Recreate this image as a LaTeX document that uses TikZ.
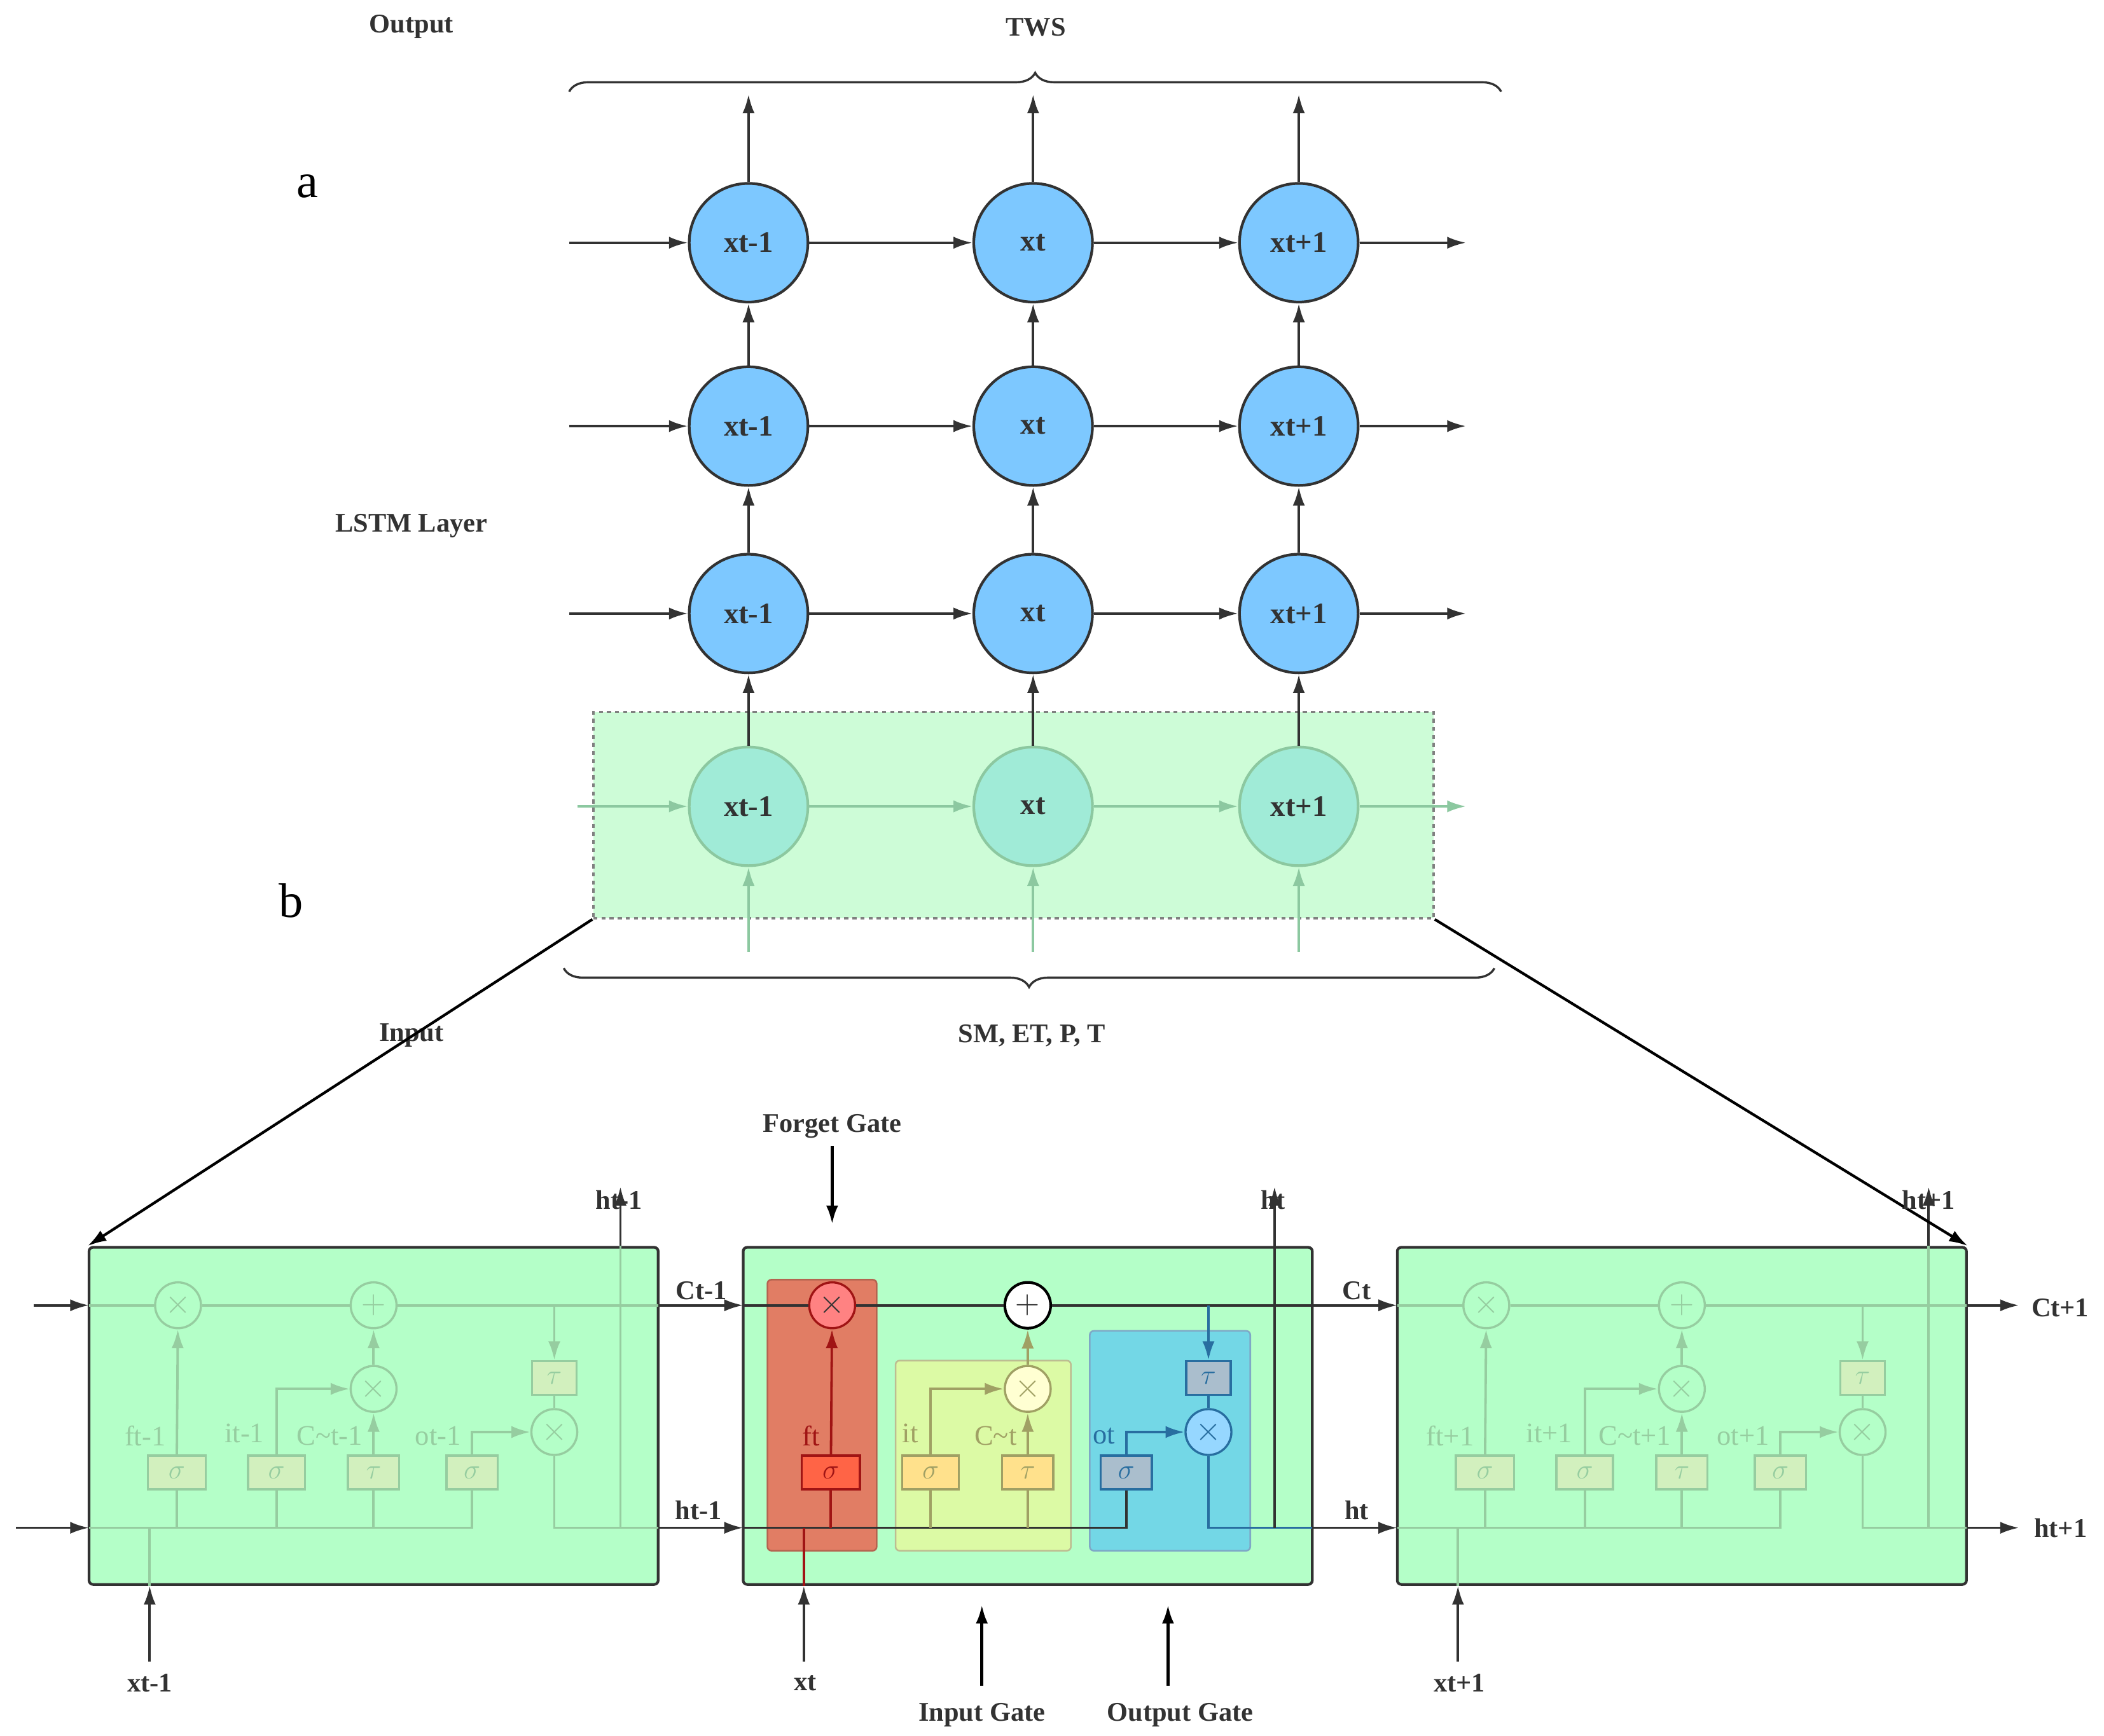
\documentclass[tikz,border=0pt]{standalone}
\usepackage{fontspec}
\setmainfont{Liberation Serif}
\usetikzlibrary{arrows.meta,decorations.pathreplacing}

\definecolor{darkline}{RGB}{50,50,50}
\definecolor{unitblue}{RGB}{125,200,255}
\definecolor{fadeedge}{RGB}{140,200,160}
\definecolor{fadeunit}{RGB}{160,235,215}
\definecolor{zoomfill}{RGB}{205,252,215}
\definecolor{cellgreen}{RGB}{180,255,200}
\definecolor{fadeline}{RGB}{150,205,160}
\definecolor{fadebox}{RGB}{210,240,190}
\definecolor{redbg}{RGB}{225,125,100}
\definecolor{redline}{RGB}{160,20,20}
\definecolor{redmul}{RGB}{255,130,130}
\definecolor{redsig}{RGB}{255,100,70}
\definecolor{yelbg}{RGB}{220,250,165}
\definecolor{yelline}{RGB}{160,160,100}
\definecolor{yelmul}{RGB}{255,255,210}
\definecolor{yelsig}{RGB}{255,225,140}
\definecolor{bluebg}{RGB}{115,215,230}
\definecolor{blueline}{RGB}{40,110,160}
\definecolor{bluemul}{RGB}{150,215,255}
\definecolor{bluesig}{RGB}{170,190,205}

\tikzset{
    unit/.style={circle,draw=darkline,fill=unitblue,line width=2pt,minimum size=88pt,inner sep=0pt,font=\fontsize{22}{26}\selectfont\bfseries},
    fadeunit/.style={unit,draw=fadeedge,fill=fadeunit},
    cellbox/.style={draw=darkline,fill=cellgreen,rounded corners=3pt,line width=2pt,minimum width=422pt,minimum height=250pt},
    mul/.style={circle,line width=1.6pt,minimum width=32pt,minimum height=34pt,inner sep=0pt,font=\fontsize{24}{24}\selectfont},
    gate/.style={rectangle,line width=1.6pt,minimum height=25pt,inner sep=0pt,font=\fontsize{20}{20}\selectfont},
    glabel/.style={font=\fontsize{21}{24}\selectfont\mdseries},
    gatebg/.style={rounded corners=3pt,line width=1.2pt},
    % colours of the live cell
    cline/.style={draw=darkline},
    add/.style={mul,draw=black,fill=white,line width=2pt},
    fline/.style={draw=redline}, fmul/.style={mul,draw=redline,fill=redmul}, fgate/.style={gate,draw=redline,fill=redsig,text=redline},
    fbg/.style={gatebg,draw=redbg!80!black,fill=redbg}, ftext/.style={glabel,text=redline},
    iline/.style={draw=yelline}, imul/.style={mul,draw=yelline,fill=yelmul,text=yelline}, igate/.style={gate,draw=yelline,fill=yelsig,text=yelline},
    ibg/.style={gatebg,draw=yelline!70,fill=yelbg}, itext/.style={glabel,text=yelline},
    oline/.style={draw=blueline}, omul/.style={mul,draw=blueline,fill=bluemul,text=blueline}, ogate/.style={gate,draw=blueline,fill=bluesig,text=blueline},
    obg/.style={gatebg,draw=blueline!60,fill=bluebg}, otext/.style={glabel,text=blueline},
    % colours of the side cells
    faded/.style={
        cline/.style={draw=fadeline}, add/.style={mul,draw=fadeline,text=fadeline},
        fline/.style={draw=fadeline}, fmul/.style={mul,draw=fadeline,text=fadeline}, fgate/.style={gate,draw=fadeline,fill=fadebox,text=fadeline},
        iline/.style={draw=fadeline}, imul/.style={mul,draw=fadeline,text=fadeline}, igate/.style={gate,draw=fadeline,fill=fadebox,text=fadeline},
        oline/.style={draw=fadeline}, omul/.style={mul,draw=fadeline,text=fadeline}, ogate/.style={gate,draw=fadeline,fill=fadebox,text=fadeline},
        fbg/.style={draw=none}, ibg/.style={draw=none}, obg/.style={draw=none},
        ftext/.style={glabel,text=fadeline}, itext/.style={glabel,text=fadeline}, otext/.style={glabel,text=fadeline}},
}

% #1 prefix, #2 shift, #3 f, #4 i, #5 C~, #6 o, #7 style
\newcommand{\lstmcell}[7]{%
\begin{scope}[xshift=#2pt,#7]
    \node[cellbox] (#1box) at (277,1050) {};
    \path[fbg] (84,949) rectangle (165,1150);
    \path[ibg] (179,1009) rectangle (309,1150);
    \path[obg] (323,987) rectangle (442,1150);
    \coordinate (#1cin) at (66,968);
    \coordinate (#1cout) at (488,968);
    \coordinate (#1hin) at (66,1133);
    \coordinate (#1hout) at (488,1133);
    \coordinate (#1xin) at (111,1232);
    \coordinate (#1hup) at (460,880);
    \coordinate (#1hsplit) at (460,1133);
    \coordinate (#1csplit) at (411,968);
    \node[fmul] (#1fx) at (132,968) {$\times$};
    \node[add] (#1add) at (277,968) {$+$};
    \node[imul] (#1ix) at (277,1030) {$\times$};
    \node[omul] (#1ox) at (411,1062) {$\times$};
    \node[ogate,minimum width=33pt] (#1ot) at (411,1022) {$\tau$};
    \node[fgate,minimum width=43pt] (#1fs) at (131,1092) {$\sigma$};
    \node[igate,minimum width=42pt] (#1is) at (205,1092) {$\sigma$};
    \node[igate,minimum width=38pt] (#1ct) at (277,1092) {$\tau$};
    \node[ogate,minimum width=38pt] (#1os) at (350,1092) {$\sigma$};
    \node[ftext,anchor=east] at (127,1065) {#3};
    \node[itext,anchor=east] at (200,1063) {#4};
    \node[itext,anchor=east] at (273,1065) {#5};
    \node[otext,anchor=east] at (346,1065) {#6};
    % cell state line
    \draw[cline] (#1cin) -- (#1fx) -- (#1add) -- (#1cout);
    \draw[->,oline] (#1csplit) -- (#1ot);
    \draw[oline] (#1ot) -- (#1ox);
    % hidden state line
    \draw[cline] (#1hin) -| (#1os);
    \draw[fline] (#1fs) -- (#1fs |- #1hin);
    \draw[iline] (#1is) -- (#1is |- #1hin);
    \draw[iline] (#1ct) -- (#1ct |- #1hin);
    \draw[->,fline] (#1fs) -- (#1fx);
    \draw[->,iline] (#1is.north) |- (#1ix.west);
    \draw[->,iline] (#1ct) -- (#1ix);
    \draw[->,iline] (#1ix) -- (#1add);
    \draw[->,oline] (#1os.north) |- (#1ox.west);
    \draw[oline] (#1ox) |- (#1hout);
    \draw[cline] (#1hsplit) -- (#1hsplit |- #1box.north);
    \draw[->,darkline] (#1hsplit |- #1box.north) -- (#1hup);
    \draw[->,darkline] (#1xin) -- (#1xin |- #1box.south);
    \draw[fline] (#1xin |- #1box.south) -- (#1xin |- #1hin);
\end{scope}}

\begin{document}
\begin{tikzpicture}[x=1pt,y=-1pt,>={Latex[length=14pt,width=9pt]},line width=1.8pt,
    font=\fontsize{20}{24}\selectfont\bfseries, every node/.style={text=darkline}]
    \useasboundingbox (0,0) rectangle (1560,1287);

    % zoom window
    \node[draw=gray,dashed,fill=zoomfill,line width=1.6pt,minimum width=623pt,minimum height=153pt] (zoom) at (751.5,604.5) {};

    % stacked LSTM units
    \foreach \r/\y in {1/180,2/316,3/455}
        \foreach \c/\x/\t in {1/555/xt-1,2/766/xt,3/963/xt+1}
            \node[unit] (n\r\c) at (\x,\y) {\t};
    \foreach \c/\x/\t in {1/555/xt-1,2/766/xt,3/963/xt+1}
        \node[fadeunit] (n4\c) at (\x,598) {\t};

    \coordinate (top) at (0,70);
    \coordinate (bot) at (0,706);
    \foreach \r/\y in {1/180,2/316,3/455} {
        \coordinate (in\r) at (422,\y);
        \coordinate (out\r) at (1087,\y);
        \draw[->,darkline] (in\r) -- (n\r1);
        \draw[->,darkline] (n\r1) -- (n\r2);
        \draw[->,darkline] (n\r2) -- (n\r3);
        \draw[->,darkline] (n\r3) -- (out\r);
    }
    \coordinate (in4) at (428,598);
    \coordinate (out4) at (1087,598);
    \draw[->,fadeedge] (in4) -- (n41);
    \draw[->,fadeedge] (n41) -- (n42);
    \draw[->,fadeedge] (n42) -- (n43);
    \draw[->,fadeedge] (n43) -- (out4);
    \foreach \c in {1,2,3} {
        \draw[->,darkline] (n4\c) -- (n3\c);
        \draw[->,darkline] (n3\c) -- (n2\c);
        \draw[->,darkline] (n2\c) -- (n1\c);
        \draw[->,darkline] (n1\c) -- (n1\c |- top);
        \draw[->,fadeedge] (n4\c |- bot) -- (n4\c);
    }

    % braces
    \coordinate (tl) at (422,68);
    \coordinate (tr) at (1113,68);
    \coordinate (bl) at (418,718);
    \coordinate (br) at (1108,718);
    \draw[darkline,line width=1.6pt,decorate,decoration={brace,amplitude=14pt}] (tl) -- (tr);
    \draw[darkline,line width=1.6pt,decorate,decoration={brace,amplitude=14pt}] (br) -- (bl);

    \node (tws) at (768,20) {TWS};
    \node (smet) at (765,768) {SM, ET, P, T};
    \node (outl) at (305,20) {Output};
    \node (lstml) at (305,390) {LSTM Layer};
    \node (inl) at (305,768) {Input};
    \node[font=\fontsize{36}{40}\selectfont,text=black] (la) at (228,138) {a};
    \node[font=\fontsize{36}{40}\selectfont,text=black] (lb) at (216,668) {b};

    % unrolled cells
    \lstmcell{l}{0}{ft-1}{it-1}{C\textasciitilde t-1}{ot-1}{faded}
    \lstmcell{m}{485}{ft}{it}{C\textasciitilde t}{ot}{}
    \lstmcell{r}{970}{ft+1}{it+1}{C\textasciitilde t+1}{ot+1}{faded}

    \draw[->,black,line width=2pt] (zoom.south west) -- (lbox.north west);
    \draw[->,black,line width=2pt] (zoom.south east) -- (rbox.north east);

    \coordinate (cstart) at (25,968);
    \coordinate (hstart) at (12,1133);
    \coordinate (cend) at (1497,968);
    \coordinate (hend) at (1497,1133);
    \draw[->,darkline] (cstart) -- (lcin);
    \draw[->,darkline] (hstart) -- (lhin);
    \draw[->,darkline] (lcout) -- (mcin);
    \draw[->,darkline] (lhout) -- (mhin);
    \draw[->,darkline] (mcout) -- (rcin);
    \draw[->,darkline] (mhout) -- (rhin);
    \draw[->,darkline] (rcout) -- (cend);
    \draw[->,darkline] (rhout) -- (hend);

    \node at (520,957) {Ct-1};
    \node at (518,1120) {ht-1};
    \node at (1006,957) {Ct};
    \node at (1006,1120) {ht};
    \node[anchor=west] at (1502,970) {Ct+1};
    \node[anchor=west] at (1504,1133) {ht+1};
    \node at (459,890) {ht-1};
    \node at (944,890) {ht};
    \node at (1430,890) {ht+1};
    \node at (111,1248) {xt-1};
    \node at (597,1248) {xt};
    \node at (1082,1248) {xt+1};

    % gate pointers
    \node (fgl) at (617,835) {Forget Gate};
    \node (igl) at (728,1272) {Input Gate};
    \node (ogl) at (875,1272) {Output Gate};
    \coordinate (fga) at (617,850);
    \coordinate (fgb) at (617,908);
    \coordinate (iga) at (728,1250);
    \coordinate (igb) at (728,1190);
    \coordinate (oga) at (866,1250);
    \coordinate (ogb) at (866,1190);
    \draw[->,black,line width=2.4pt] (fga) -- (fgb);
    \draw[->,black,line width=2.4pt] (iga) -- (igb);
    \draw[->,black,line width=2.4pt] (oga) -- (ogb);
\end{tikzpicture}
\end{document}
